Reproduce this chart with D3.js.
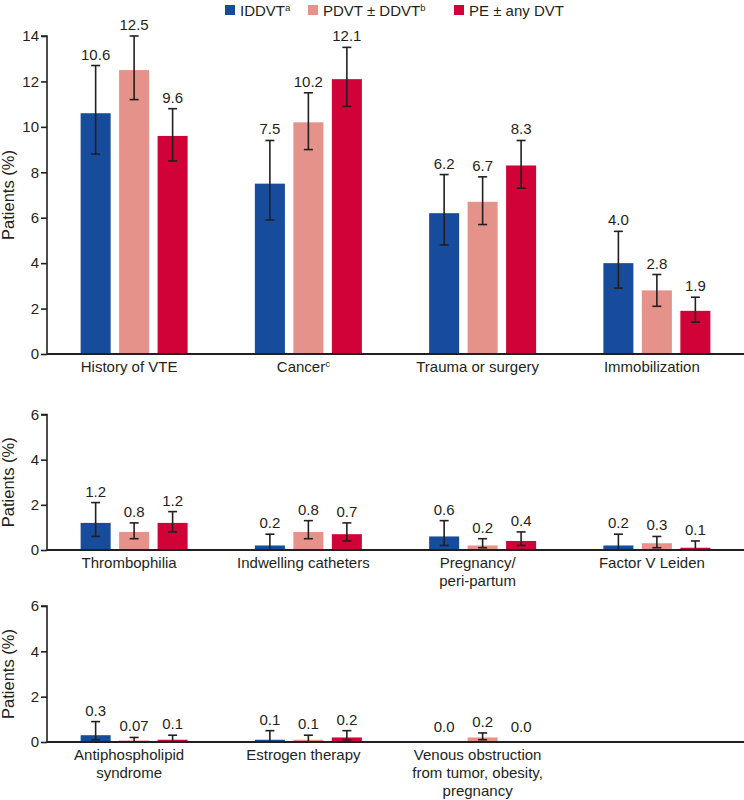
<!DOCTYPE html>
<html><head><meta charset="utf-8">
<script src="https://cdn.jsdelivr.net/npm/d3@7"></script>
<style>
html,body{margin:0;padding:0;background:#fff;}
svg{display:block;font-family:"Liberation Sans",Arial,sans-serif;}
</style></head>
<body><svg id="chart" width="744" height="800"></svg>
<script>
// ---- data ----
const seriesNames = ["IDDVT", "PDVT ± DDVT", "PE ± any DVT"];
const seriesSup = ["a", "b", ""];
const seriesColors = ["#174c9c", "#e5928b", "#d10237"];

// panel 1
const p1Cats = [["History of VTE"], ["Cancer"], ["Trauma or surgery"], ["Immobilization"]];
const p1CatSup = ["", "c", "", ""];
const p1IDDVT = [10.6, 7.5, 6.2, 4.0];
const p1PDVT = [12.5, 10.2, 6.7, 2.8];
const p1PE = [9.6, 12.1, 8.3, 1.9];
const p1IDDVTLo = [8.8, 5.9, 4.8, 2.9];
const p1IDDVTHi = [12.7, 9.4, 7.9, 5.4];
const p1PDVTLo = [11.2, 9.0, 5.7, 2.1];
const p1PDVTHi = [14.0, 11.5, 7.8, 3.5];
const p1PELo = [8.5, 10.9, 7.3, 1.4];
const p1PEHi = [10.8, 13.5, 9.4, 2.5];
const p1Labels = [["10.6", "7.5", "6.2", "4.0"], ["12.5", "10.2", "6.7", "2.8"], ["9.6", "12.1", "8.3", "1.9"]];
const p1Ticks = [0, 2, 4, 6, 8, 10, 12, 14];

// panel 2
const p2Cats = [["Thrombophilia"], ["Indwelling catheters"], ["Pregnancy/", "peri-partum"], ["Factor V Leiden"]];
const p2IDDVT = [1.2, 0.2, 0.6, 0.2];
const p2PDVT = [0.8, 0.8, 0.2, 0.3];
const p2PE = [1.2, 0.7, 0.4, 0.1];
const p2IDDVTLo = [0.6, 0.0, 0.2, 0.0];
const p2IDDVTHi = [2.1, 0.7, 1.3, 0.7];
const p2PDVTLo = [0.5, 0.5, 0.1, 0.1];
const p2PDVTHi = [1.2, 1.3, 0.5, 0.6];
const p2PELo = [0.8, 0.4, 0.2, 0.0];
const p2PEHi = [1.7, 1.2, 0.8, 0.4];
const p2Labels = [["1.2", "0.2", "0.6", "0.2"], ["0.8", "0.8", "0.2", "0.3"], ["1.2", "0.7", "0.4", "0.1"]];
const p2Ticks = [0, 2, 4, 6];

// panel 3
const p3Cats = [["Antiphospholipid", "syndrome"], ["Estrogen therapy"], ["Venous obstruction", "from tumor, obesity,", "pregnancy"]];
const p3IDDVT = [0.3, 0.1, 0.0];
const p3PDVT = [0.07, 0.1, 0.2];
const p3PE = [0.1, 0.2, 0.0];
const p3IDDVTLo = [0.1, 0.0, null];
const p3IDDVTHi = [0.9, 0.5, null];
const p3PDVTLo = [0.0, 0.0, 0.1];
const p3PDVTHi = [0.2, 0.3, 0.4];
const p3PELo = [0.0, 0.1, null];
const p3PEHi = [0.3, 0.5, null];
const p3Labels = [["0.3", "0.1", "0.0"], ["0.07", "0.1", "0.2"], ["0.1", "0.2", "0.0"]];
const p3Ticks = [0, 2, 4, 6];

// ---- drawing ----
const svg = d3.select("#chart");
const axisX = 47, rightX = 744;
const slotW = (rightX - axisX) / 4;
const ink = "#231f20";
const FS = 15;

function panel(cfg) {
  const g = svg.append("g");
  const n = cfg.cats.length;
  const x = d3.scaleBand().domain(d3.range(n)).range([axisX, axisX + slotW * n]).padding(0);
  const xs = d3.scaleBand().domain(d3.range(3)).range([-53.5, 53.5]).paddingInner(0.22).paddingOuter(0);
  const y = d3.scaleLinear().domain([0, cfg.max]).range([cfg.y0, cfg.y1]);
  const vals = [cfg.a, cfg.b, cfg.c];
  const lo = [cfg.aLo, cfg.bLo, cfg.cLo];
  const hi = [cfg.aHi, cfg.bHi, cfg.cHi];
  const data = [];
  for (let s = 0; s < 3; s++) for (let i = 0; i < n; i++)
    data.push({s, i, v: vals[s][i], lo: lo[s][i], hi: hi[s][i], lab: cfg.labels[s][i]});

  g.selectAll("rect.bar").data(data).join("rect").attr("class", "bar")
    .attr("x", d => x(d.i) + x.bandwidth() / 2 + xs(d.s))
    .attr("width", xs.bandwidth())
    .attr("y", d => y(d.v))
    .attr("height", d => y(0) - y(d.v))
    .attr("fill", d => seriesColors[d.s]);

  const eb = data.filter(d => d.hi != null);
  const cx = d => x(d.i) + x.bandwidth() / 2 + xs(d.s) + xs.bandwidth() / 2;
  const eg = g.append("g").attr("stroke", ink).attr("stroke-width", 1.6).attr("fill", "none");
  eg.selectAll("line.v").data(eb).join("line").attr("class", "v")
    .attr("x1", cx).attr("x2", cx).attr("y1", d => y(d.lo)).attr("y2", d => y(d.hi));
  eg.selectAll("line.t").data(eb).join("line").attr("class", "t")
    .attr("x1", d => cx(d) - 4.5).attr("x2", d => cx(d) + 4.5).attr("y1", d => y(d.hi)).attr("y2", d => y(d.hi));
  eg.selectAll("line.b").data(eb.filter(d => d.lo > 0)).join("line").attr("class", "b")
    .attr("x1", d => cx(d) - 4.5).attr("x2", d => cx(d) + 4.5).attr("y1", d => y(d.lo)).attr("y2", d => y(d.lo));

  g.selectAll("text.val").data(data).join("text").attr("class", "val")
    .attr("x", cx)
    .attr("y", d => (d.hi != null ? y(d.hi) : y(d.v) - 4) - 6)
    .attr("text-anchor", "middle").attr("font-size", FS).attr("fill", ink)
    .text(d => d.lab);

  // y axis
  const ya = d3.axisLeft(y).tickValues(cfg.ticks).tickSize(6).tickPadding(2).tickFormat(d3.format("d"));
  const yg = g.append("g").attr("transform", `translate(${axisX},0)`).call(ya);
  yg.select(".domain").attr("stroke", ink).attr("stroke-width", 1.6).attr("d", `M-6,${y(cfg.max)}H0V${y(0)}`);
  yg.selectAll(".tick line").attr("stroke", ink).attr("stroke-width", 1.6);
  yg.selectAll(".tick text").attr("font-size", FS).attr("fill", ink).attr("font-family", "Liberation Sans, Arial, sans-serif");

  // x axis line
  g.append("line").attr("x1", axisX).attr("x2", rightX).attr("y1", y(0)).attr("y2", y(0))
    .attr("stroke", ink).attr("stroke-width", 1.8);

  // y title
  g.append("text").attr("transform", `translate(13.5,${(y(0) + y(cfg.max)) / 2}) rotate(-90)`)
    .attr("text-anchor", "middle").attr("font-size", 16.5).attr("fill", ink).text("Patients (%)");

  // category labels
  cfg.cats.forEach((lines, i) => {
    const t = g.append("text").attr("text-anchor", "middle").attr("font-size", FS).attr("fill", ink);
    lines.forEach((ln, k) => {
      t.append("tspan").attr("x", x(i) + x.bandwidth() / 2 - 5).attr("y", y(0) + 18 + k * 18).text(ln);
    });
    if (cfg.catSup && cfg.catSup[i]) {
      t.append("tspan").attr("font-size", 9.5).attr("dy", -5.5).text(cfg.catSup[i]);
    }
  });
}

panel({cats: p1Cats, catSup: p1CatSup, a: p1IDDVT, b: p1PDVT, c: p1PE,
  aLo: p1IDDVTLo, aHi: p1IDDVTHi, bLo: p1PDVTLo, bHi: p1PDVTHi, cLo: p1PELo, cHi: p1PEHi,
  labels: p1Labels, ticks: p1Ticks, max: 14, y0: 354, y1: 36});
panel({cats: p2Cats, a: p2IDDVT, b: p2PDVT, c: p2PE,
  aLo: p2IDDVTLo, aHi: p2IDDVTHi, bLo: p2PDVTLo, bHi: p2PDVTHi, cLo: p2PELo, cHi: p2PEHi,
  labels: p2Labels, ticks: p2Ticks, max: 6, y0: 550, y1: 414.5});
panel({cats: p3Cats, a: p3IDDVT, b: p3PDVT, c: p3PE,
  aLo: p3IDDVTLo, aHi: p3IDDVTHi, bLo: p3PDVTLo, bHi: p3PDVTHi, cLo: p3PELo, cHi: p3PEHi,
  labels: p3Labels, ticks: p3Ticks, max: 6, y0: 742, y1: 606});

// legend
const legX = [225, 308, 454];
const lg = svg.append("g");
seriesNames.forEach((nm, s) => {
  lg.append("rect").attr("x", legX[s]).attr("y", 5).attr("width", 10).attr("height", 10).attr("fill", seriesColors[s]);
  const t = lg.append("text").attr("x", legX[s] + 15).attr("y", 16).attr("font-size", FS).attr("fill", ink).text(nm);
  if (seriesSup[s]) t.append("tspan").attr("font-size", 9.5).attr("dy", -5.5).text(seriesSup[s]);
});
</script></body></html>
